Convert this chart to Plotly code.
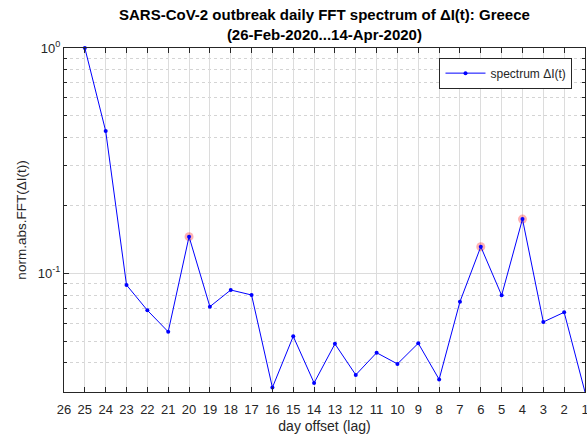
import plotly.graph_objects as go

lags = [25, 24, 23, 22, 21, 20, 19, 18, 17, 16, 15, 14, 13, 12, 11, 10, 9, 8, 7, 6, 5, 4, 3, 2, 1]
spectrum = [1.0, 0.428, 0.0887, 0.0685, 0.0550, 0.1454, 0.0711, 0.0843, 0.0801, 0.0311,
            0.0525, 0.0326, 0.0486, 0.0354, 0.0444, 0.0396, 0.0489, 0.0338, 0.0748, 0.1312,
            0.0798, 0.174, 0.0608, 0.0671, 0.0297]
peak_lags = [20, 6, 4]
peak_vals = [0.1454, 0.1312, 0.174]
x_ticks = list(range(26, 0, -1))
y_major = [0.1, 1]
y_major_text = ["10<sup>-1</sup>", "10<sup>0</sup>"]
y_minor = [0.03, 0.04, 0.05, 0.06, 0.07, 0.08, 0.09, 0.2, 0.3, 0.4, 0.5, 0.6, 0.7, 0.8, 0.9]

FONT = "Liberation Sans, Arial, Helvetica, sans-serif"
AX = "#262626"
GRID = "#dcdcdc"

fig = go.Figure()
fig.add_trace(go.Scatter(
    x=peak_lags, y=peak_vals, mode="markers",
    marker=dict(color="rgba(255,0,0,0.3)", size=9),
    showlegend=False, hoverinfo="skip", cliponaxis=False))
fig.add_trace(go.Scatter(
    x=lags, y=spectrum, mode="lines+markers", name="spectrum ΔI(t)",
    line=dict(color="#0000ff", width=1),
    marker=dict(color="#0000ff", size=4), cliponaxis=False))

fig.update_layout(
    width=587, height=434,
    margin=dict(l=64, r=2, t=48, b=42, autoexpand=False),
    paper_bgcolor="white", plot_bgcolor="white",
    font=dict(family=FONT, color=AX, size=12),
    legend=dict(
        x=0.976, y=0.972, xanchor="right", yanchor="top",
        bgcolor="white", bordercolor="#262626", borderwidth=1,
        font=dict(size=12, color=AX, family=FONT),
        itemwidth=40, tracegroupgap=0),
    showlegend=True,
    annotations=[dict(
        text="<b>SARS-CoV-2 outbreak daily FFT spectrum of ΔI(t): Greece<br>(26-Feb-2020...14-Apr-2020)</b>",
        x=0.5, xref="paper", xanchor="center",
        y=1, yref="paper", yanchor="bottom", yshift=3,
        showarrow=False, align="center",
        font=dict(size=15, color="#000000", family=FONT))],
)

fig.update_xaxes(
    range=[26, 1], autorange=False, automargin=False,
    tickmode="array", tickvals=x_ticks, ticktext=[str(v) for v in x_ticks],
    ticks="inside", ticklen=5, tickcolor=AX, ticklabelstandoff=5,
    ticklabeloverflow="allow",
    showline=True, linecolor=AX, linewidth=1, mirror="ticks",
    showgrid=True, gridcolor=GRID, gridwidth=1,
    zeroline=False,
    tickfont=dict(size=13, color=AX),
    title=dict(text="day offset (lag)", standoff=8, font=dict(size=14, color=AX)),
)
fig.update_yaxes(
    type="log", range=[-1.527, 0], autorange=False, automargin=False,
    tickmode="array", tickvals=y_major, ticktext=y_major_text,
    ticks="inside", ticklen=5, tickcolor=AX, ticklabeloverflow="allow",
    showline=True, linecolor=AX, linewidth=1, mirror="ticks",
    showgrid=True, gridcolor=GRID, gridwidth=1,
    zeroline=False,
    tickfont=dict(size=13, color=AX),
    minor=dict(tickmode="array", tickvals=y_minor, ticks="inside", ticklen=3,
               tickcolor=AX, showgrid=True, gridcolor="#d4d4d4", griddash="dot", gridwidth=1),
    title=dict(text="norm.abs.FFT(ΔI(t))", standoff=8, font=dict(size=13.5, color=AX)),
)

fig.write_html("out.html", config={"displayModeBar": False},
               post_script="document.body.style.margin='0px';document.body.style.overflow='hidden';")
